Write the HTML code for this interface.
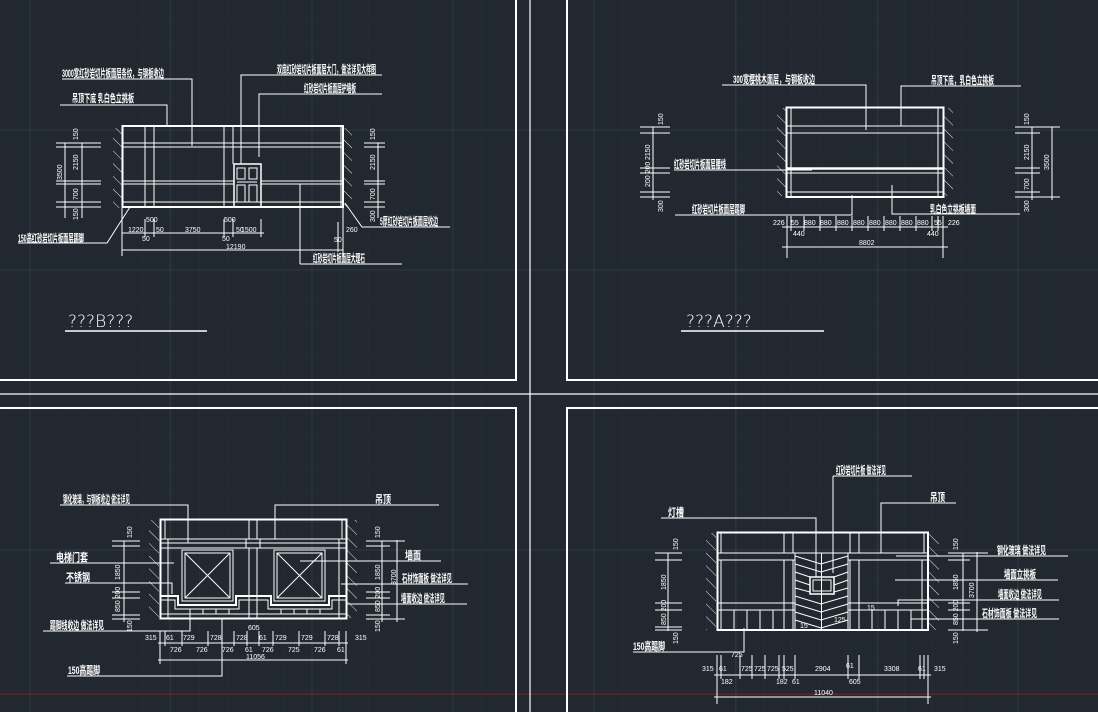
<!DOCTYPE html>
<html><head><meta charset="utf-8"><style>
html,body{margin:0;padding:0;background:#212830;}
svg{display:block}
text{font-family:"Liberation Sans","Noto Sans CJK SC",sans-serif;fill:#fff;}
.t{font-size:11px;font-weight:bold}
.d{font-size:7px}
</style></head><body>
<svg width="1098" height="712" viewBox="0 0 1098 712" xmlns="http://www.w3.org/2000/svg">
<defs>
<pattern id="minor" width="28.2" height="28" patternUnits="userSpaceOnUse" x="1.8" y="18">
<path d="M0 0V28M0 0H28.2" stroke="#262e38" stroke-width="1" fill="none"/>
</pattern>
<pattern id="hat" width="9" height="9" patternUnits="userSpaceOnUse" patternTransform="rotate(-45)">
<line x1="0" y1="0" x2="0" y2="9" stroke="#fff" stroke-width="0.9"/>
</pattern>
</defs>
<rect width="1098" height="712" fill="#212830"/>
<rect width="1098" height="712" fill="url(#minor)"/>
<g stroke="#2f3844" stroke-width="1">
<line x1="30" y1="0" x2="30" y2="712"/><line x1="170" y1="0" x2="170" y2="712"/><line x1="312" y1="0" x2="312" y2="712"/><line x1="453" y1="0" x2="453" y2="712"/><line x1="594" y1="0" x2="594" y2="712"/><line x1="736" y1="0" x2="736" y2="712"/><line x1="878" y1="0" x2="878" y2="712"/><line x1="1018" y1="0" x2="1018" y2="712"/>
<line x1="0" y1="130" x2="1098" y2="130"/><line x1="0" y1="270" x2="1098" y2="270"/><line x1="0" y1="550" x2="1098" y2="550"/>
</g>
<line x1="0" y1="694" x2="1098" y2="694" stroke="#8a1e22" stroke-width="1"/>
<g stroke="#fff" stroke-width="2" fill="none">
<polyline points="0,380 516,380 516,0"/>
<polyline points="1098,380 567,380 567,0"/>
<polyline points="0,408 516,408 516,712"/>
<polyline points="1098,408 567,408 567,712"/>
</g>
<line x1="530" y1="0" x2="530" y2="712" stroke="#fff" stroke-width="1.2"/>
<line x1="0" y1="394" x2="1098" y2="394" stroke="#fff" stroke-width="1.2"/>

<!-- ===== TOP LEFT (B) ===== -->
<rect x="113" y="128" width="9" height="80" fill="url(#hat)"/>
<rect x="343" y="128" width="9" height="80" fill="url(#hat)"/>
<g stroke="#fff" fill="none">
<rect x="122.5" y="126" width="220.5" height="81" stroke-width="2"/>
<g stroke-width="1">
<line x1="122" y1="143" x2="343" y2="143"/><line x1="122" y1="147" x2="343" y2="147"/>
<line x1="122" y1="181" x2="234" y2="181"/><line x1="122" y1="184" x2="234" y2="184"/>
<line x1="261" y1="181" x2="343" y2="181"/><line x1="261" y1="184" x2="343" y2="184"/>
<line x1="122" y1="202" x2="343" y2="202"/>
<line x1="145" y1="126" x2="145" y2="207"/><line x1="154" y1="126" x2="154" y2="207"/>
<line x1="224" y1="126" x2="224" y2="207"/><line x1="233" y1="126" x2="233" y2="164"/>
<line x1="341" y1="126" x2="341" y2="207"/>
<line x1="300" y1="184" x2="300" y2="264"/>
</g>
<rect x="234" y="164" width="27" height="43" stroke-width="1.5"/>
<rect x="237" y="168" width="8" height="11"/><rect x="249" y="168" width="8" height="11"/>
<rect x="237" y="185" width="8" height="17"/><rect x="249" y="185" width="8" height="17"/>
<line x1="237" y1="182" x2="257" y2="182"/>
<g stroke-width="1">
<polyline points="62,79 192,79 192,146"/>
<polyline points="60,105 167,105 167,126"/>
<polyline points="241,164 241,75 382,75"/>
<polyline points="259,157 259,94 382,94"/>
<polyline points="18,243 107,243 130,207"/>
<polyline points="345,203 362,227 450,227"/>
<polyline points="300,264 402,264"/>
<line x1="65" y1="143" x2="65" y2="218"/><line x1="82" y1="143" x2="82" y2="218"/>
<line x1="56" y1="143" x2="101" y2="143"/><line x1="56" y1="147" x2="101" y2="147"/>
<line x1="56" y1="181" x2="101" y2="181"/><line x1="56" y1="184" x2="101" y2="184"/>
<line x1="56" y1="202" x2="101" y2="202"/><line x1="56" y1="207" x2="101" y2="207"/>
<line x1="378" y1="143" x2="378" y2="218"/>
<line x1="364" y1="143" x2="385" y2="143"/><line x1="364" y1="147" x2="385" y2="147"/>
<line x1="364" y1="181" x2="385" y2="181"/><line x1="364" y1="184" x2="385" y2="184"/>
<line x1="364" y1="202" x2="385" y2="202"/><line x1="364" y1="207" x2="385" y2="207"/>
<line x1="122" y1="233" x2="264" y2="233"/>
<line x1="122" y1="250" x2="343" y2="250"/>
<line x1="122" y1="207" x2="122" y2="256"/><line x1="343" y1="207" x2="343" y2="256"/>
<line x1="145" y1="219" x2="145" y2="237"/><line x1="154" y1="219" x2="154" y2="237"/>
<line x1="224" y1="219" x2="224" y2="237"/><line x1="233" y1="219" x2="233" y2="237"/>
<line x1="261" y1="219" x2="261" y2="237"/>
<line x1="338" y1="222" x2="338" y2="252"/>
</g>
</g>
<text class="t" x="62" y="77" textLength="102" lengthAdjust="spacingAndGlyphs">3000宽红砂岩切片板面层条纹，与钢板收边</text>
<text class="t" x="72" y="102" textLength="62" lengthAdjust="spacingAndGlyphs">吊顶下底 乳白色立挑板</text>
<text class="t" x="277" y="73" textLength="99" lengthAdjust="spacingAndGlyphs">双扇红砂岩切片板面层大门，做法详见大样图</text>
<text class="t" x="304" y="92" textLength="52" lengthAdjust="spacingAndGlyphs">红砂岩切片板面层护墙板</text>
<text class="t" x="18" y="242" textLength="66" lengthAdjust="spacingAndGlyphs">150高红砂岩切片板面层踢脚</text>
<text class="t" x="380" y="225" textLength="58" lengthAdjust="spacingAndGlyphs">5厚红砂岩切片板面层收边</text>
<text class="t" x="313" y="262" textLength="52" lengthAdjust="spacingAndGlyphs">红砂岩切片板面层大理石</text>
<g class="d">
<text x="128" y="232">1220</text><text x="146" y="222">500</text><text x="185" y="232">3750</text><text x="224" y="222">500</text><text x="241" y="232">1500</text>
<text x="142" y="241">50</text><text x="156" y="232">50</text><text x="222" y="241">50</text><text x="236" y="232">50</text>
<text x="226" y="249">12190</text><text x="346" y="232">260</text><text x="334" y="242">50</text>
</g>
<g class="d">
<text transform="translate(78,140) rotate(-90)">150</text>
<text transform="translate(78,170) rotate(-90)">2150</text>
<text transform="translate(62,180) rotate(-90)">3500</text>
<text transform="translate(78,200) rotate(-90)">700</text>
<text transform="translate(78,220) rotate(-90)">150</text>
<text transform="translate(375,140) rotate(-90)">150</text>
<text transform="translate(375,170) rotate(-90)">2150</text>
<text transform="translate(375,200) rotate(-90)">700</text>
<text transform="translate(375,222) rotate(-90)">300</text>
</g>
<text x="68" y="327" font-size="17" style="font-family:'DejaVu Sans',sans-serif;font-weight:300">???B???</text>
<line x1="65" y1="331" x2="207" y2="331" stroke="#fff" stroke-width="1.5"/>

<!-- ===== TOP RIGHT (A) ===== -->
<rect x="777" y="108" width="9" height="88" fill="url(#hat)"/>
<rect x="944" y="108" width="9" height="88" fill="url(#hat)"/>
<g stroke="#fff" fill="none">
<rect x="786.5" y="107.5" width="157" height="89.5" stroke-width="2"/>
<g stroke-width="1">
<line x1="786" y1="126" x2="944" y2="126"/><line x1="786" y1="133" x2="944" y2="133"/>
<line x1="786" y1="173" x2="944" y2="173"/><line x1="786" y1="192" x2="944" y2="192"/>
<line x1="791" y1="107" x2="791" y2="197"/><line x1="938" y1="107" x2="938" y2="197"/>
</g>
<line x1="786" y1="168.5" x2="944" y2="168.5" stroke-width="2.5"/>
<g stroke-width="1">
<polyline points="722,85 866,85 866,130"/>
<polyline points="901,126 901,86 1021,86"/>
<polyline points="674,170 812,170"/>
<polyline points="675,215 852,215 852,195"/>
<polyline points="892,185 892,214 1020,214"/>
<line x1="653" y1="127" x2="653" y2="200"/>
<line x1="640" y1="127" x2="670" y2="127"/><line x1="640" y1="133" x2="670" y2="133"/>
<line x1="640" y1="168" x2="670" y2="168"/><line x1="640" y1="173" x2="670" y2="173"/>
<line x1="640" y1="192" x2="670" y2="192"/><line x1="640" y1="197" x2="670" y2="197"/>
<line x1="1032" y1="127" x2="1032" y2="200"/><line x1="1052" y1="127" x2="1052" y2="200"/>
<line x1="1015" y1="127" x2="1060" y2="127"/><line x1="1015" y1="133" x2="1040" y2="133"/>
<line x1="1015" y1="168" x2="1040" y2="168"/><line x1="1015" y1="173" x2="1040" y2="173"/>
<line x1="1015" y1="192" x2="1040" y2="192"/><line x1="1015" y1="197" x2="1060" y2="197"/>
<line x1="782" y1="227" x2="948" y2="227"/>
<line x1="782" y1="247" x2="948" y2="247"/>
<line x1="787" y1="216" x2="787" y2="258"/><line x1="943" y1="216" x2="943" y2="258"/>
<line x1="791" y1="216" x2="791" y2="231"/><line x1="804" y1="216" x2="804" y2="231"/><line x1="820" y1="216" x2="820" y2="231"/><line x1="836" y1="216" x2="836" y2="231"/><line x1="852" y1="216" x2="852" y2="231"/><line x1="868" y1="216" x2="868" y2="231"/><line x1="884" y1="216" x2="884" y2="231"/><line x1="900" y1="216" x2="900" y2="231"/><line x1="916" y1="216" x2="916" y2="231"/><line x1="932" y1="216" x2="932" y2="231"/><line x1="938" y1="216" x2="938" y2="231"/>
</g>
</g>
<text class="t" x="733" y="83" textLength="82" lengthAdjust="spacingAndGlyphs">300宽樱桃木面层，与钢板收边</text>
<text class="t" x="931" y="84" textLength="63" lengthAdjust="spacingAndGlyphs">吊顶下底，乳白色立挑板</text>
<text class="t" x="674" y="168" textLength="52" lengthAdjust="spacingAndGlyphs">红砂岩切片板面层腰线</text>
<text class="t" x="692" y="213" textLength="53" lengthAdjust="spacingAndGlyphs">红砂岩切片板面层踢脚</text>
<text class="t" x="930" y="213" textLength="46" lengthAdjust="spacingAndGlyphs">乳白色立挑板墙面</text>
<g class="d">
<text x="773" y="225">226</text><text x="791" y="225">55</text><text x="804" y="225">880</text><text x="820" y="225">880</text><text x="837" y="225">880</text><text x="853" y="225">880</text><text x="869" y="225">880</text><text x="885" y="225">880</text><text x="901" y="225">880</text><text x="917" y="225">880</text><text x="934" y="225">55</text><text x="948" y="225">226</text>
<text x="793" y="236">440</text><text x="927" y="236">440</text><text x="859" y="245">8802</text>
</g>
<g class="d">
<text transform="translate(663,125) rotate(-90)">150</text>
<text transform="translate(650,160) rotate(-90)">2150</text>
<text transform="translate(650,187) rotate(-90)">200 200</text>
<text transform="translate(663,212) rotate(-90)">300</text>
<text transform="translate(1029,125) rotate(-90)">150</text>
<text transform="translate(1029,160) rotate(-90)">2150</text>
<text transform="translate(1029,190) rotate(-90)">700</text>
<text transform="translate(1049,170) rotate(-90)">3500</text>
<text transform="translate(1029,212) rotate(-90)">300</text>
</g>
<text x="686" y="327" font-size="17" style="font-family:'DejaVu Sans',sans-serif;font-weight:300">???A???</text>
<line x1="681" y1="331" x2="824" y2="331" stroke="#fff" stroke-width="1.5"/>

<!-- ===== BOTTOM LEFT ===== -->
<rect x="149" y="520" width="10" height="98" fill="url(#hat)"/>
<rect x="347" y="520" width="10" height="98" fill="url(#hat)"/>
<g stroke="#fff" fill="none">
<rect x="160.5" y="519.5" width="186" height="99" stroke-width="2"/>
<g stroke-width="1">
<line x1="160" y1="539" x2="347" y2="539"/><line x1="160" y1="543" x2="347" y2="543"/><line x1="160" y1="548" x2="347" y2="548"/>
<line x1="165" y1="519" x2="165" y2="539"/><line x1="342" y1="519" x2="342" y2="539"/>
<line x1="249" y1="519" x2="249" y2="539"/><line x1="257" y1="519" x2="257" y2="539"/>
<line x1="168" y1="539" x2="168" y2="618"/><line x1="339" y1="539" x2="339" y2="618"/>
<line x1="249" y1="548" x2="249" y2="618"/><line x1="257" y1="548" x2="257" y2="618"/>
<line x1="246" y1="539" x2="246" y2="548"/><line x1="260" y1="539" x2="260" y2="548"/>
<rect x="182" y="550" width="51" height="51"/><rect x="185" y="553" width="45" height="45"/>
<line x1="185" y1="553" x2="230" y2="598"/><line x1="230" y1="553" x2="185" y2="598"/>
<rect x="274" y="550" width="51" height="51"/><rect x="277" y="553" width="45" height="45"/>
<line x1="277" y1="553" x2="322" y2="598"/><line x1="322" y1="553" x2="277" y2="598"/>
<line x1="160" y1="614" x2="347" y2="614"/>
</g>
<polyline stroke-width="2" points="160,596 178,596 178,605 236,605 236,596 271,596 271,605 329,605 329,596 347,596"/>
<polyline stroke-width="1" points="160,600 175,600 175,609 239,609 239,600 268,600 268,609 332,609 332,600 347,600"/>
<g stroke-width="1">
<line x1="190" y1="609" x2="190" y2="614"/><line x1="203" y1="609" x2="203" y2="614"/><line x1="216" y1="609" x2="216" y2="614"/><line x1="229" y1="609" x2="229" y2="614"/>
<line x1="281" y1="609" x2="281" y2="614"/><line x1="294" y1="609" x2="294" y2="614"/><line x1="307" y1="609" x2="307" y2="614"/><line x1="320" y1="609" x2="320" y2="614"/>
<polyline points="60,505 188,505 188,543"/>
<polyline points="275,539 275,505 439,505"/>
<polyline points="50,563 174,563"/>
<polyline points="65,583 172,583 172,594"/>
<polyline points="43,631 190,631 190,611"/>
<polyline points="67,676 222,676 222,618"/>
<polyline points="300,561 441,561"/>
<polyline points="341,584 468,584"/>
<polyline points="347,604 467,604"/>
<line x1="124" y1="541" x2="124" y2="622"/>
<line x1="112" y1="541" x2="140" y2="541"/><line x1="112" y1="546" x2="140" y2="546"/>
<line x1="112" y1="592" x2="140" y2="592"/><line x1="112" y1="598" x2="140" y2="598"/>
<line x1="112" y1="615" x2="140" y2="615"/><line x1="112" y1="619" x2="140" y2="619"/>
<line x1="382" y1="541" x2="382" y2="622"/><line x1="397" y1="540" x2="397" y2="622"/>
<line x1="366" y1="541" x2="405" y2="541"/><line x1="366" y1="546" x2="390" y2="546"/>
<line x1="366" y1="592" x2="390" y2="592"/><line x1="366" y1="598" x2="390" y2="598"/>
<line x1="366" y1="615" x2="390" y2="615"/><line x1="366" y1="619" x2="405" y2="619"/>
<line x1="158" y1="643" x2="348" y2="643"/>
<line x1="158" y1="660" x2="348" y2="660"/>
<line x1="160" y1="631" x2="160" y2="664"/><line x1="346" y1="631" x2="346" y2="664"/>
<line x1="165" y1="631" x2="165" y2="646"/><line x1="182" y1="631" x2="182" y2="646"/><line x1="208" y1="631" x2="208" y2="646"/><line x1="234" y1="631" x2="234" y2="646"/><line x1="247" y1="631" x2="247" y2="646"/><line x1="259" y1="631" x2="259" y2="646"/><line x1="273" y1="631" x2="273" y2="646"/><line x1="299" y1="631" x2="299" y2="646"/><line x1="325" y1="631" x2="325" y2="646"/><line x1="339" y1="631" x2="339" y2="646"/>
</g>
</g>
<text class="t" x="63" y="503" textLength="67" lengthAdjust="spacingAndGlyphs">钢化玻璃，与钢板收边 做法详见</text>
<text class="t" x="375" y="503" textLength="16" lengthAdjust="spacingAndGlyphs">吊顶</text>
<text class="t" x="56" y="561" textLength="32" lengthAdjust="spacingAndGlyphs">电梯门套</text>
<text class="t" x="66" y="581" textLength="24" lengthAdjust="spacingAndGlyphs">不锈钢</text>
<text class="t" x="50" y="629" textLength="54" lengthAdjust="spacingAndGlyphs">踢脚线收边 做法详见</text>
<text class="t" x="68" y="674" textLength="32" lengthAdjust="spacingAndGlyphs">150高踢脚</text>
<text class="t" x="405" y="559" textLength="16" lengthAdjust="spacingAndGlyphs">墙面</text>
<text class="t" x="402" y="582" textLength="50" lengthAdjust="spacingAndGlyphs">石材饰面板 做法详见</text>
<text class="t" x="401" y="602" textLength="44" lengthAdjust="spacingAndGlyphs">墙面收边 做法详见</text>
<g class="d">
<text x="145" y="640">315</text><text x="166" y="640">61</text><text x="183" y="640">729</text><text x="210" y="640">728</text><text x="236" y="640">728</text><text x="259" y="640">61</text><text x="275" y="640">729</text><text x="301" y="640">729</text><text x="327" y="640">728</text><text x="355" y="640">315</text>
<text x="170" y="652">726</text><text x="196" y="652">726</text><text x="222" y="652">726</text><text x="245" y="652">61</text><text x="262" y="652">726</text><text x="288" y="652">725</text><text x="314" y="652">726</text><text x="337" y="652">61</text>
<text x="248" y="630">605</text><text x="246" y="659">11056</text>
</g>
<g class="d">
<text transform="translate(132,538) rotate(-90)">150</text>
<text transform="translate(120,580) rotate(-90)">1850</text>
<text transform="translate(120,612) rotate(-90)">850 200</text>
<text transform="translate(132,632) rotate(-90)">150</text>
<text transform="translate(380,538) rotate(-90)">150</text>
<text transform="translate(380,580) rotate(-90)">1850</text>
<text transform="translate(380,612) rotate(-90)">850 200</text>
<text transform="translate(380,632) rotate(-90)">150</text>
<text transform="translate(396,585) rotate(-90)">3700</text>
</g>

<!-- ===== BOTTOM RIGHT ===== -->
<rect x="706" y="533" width="10" height="97" fill="url(#hat)"/>
<rect x="929" y="533" width="10" height="97" fill="url(#hat)"/>
<g stroke="#fff" fill="none">
<rect x="717.5" y="532.5" width="210.5" height="97.5" stroke-width="2"/>
<g stroke-width="1">
<line x1="717" y1="553" x2="928" y2="553"/><line x1="717" y1="560" x2="795" y2="560"/><line x1="848" y1="560" x2="928" y2="560"/>
<line x1="717" y1="603" x2="795" y2="603"/><line x1="848" y1="603" x2="928" y2="603"/>
<line x1="717" y1="610" x2="795" y2="610"/><line x1="848" y1="610" x2="928" y2="610"/>
<line x1="721" y1="532" x2="721" y2="553"/><line x1="924" y1="532" x2="924" y2="553"/>
<line x1="784" y1="532" x2="784" y2="553"/><line x1="793" y1="532" x2="793" y2="553"/>
<line x1="850" y1="532" x2="850" y2="553"/><line x1="859" y1="532" x2="859" y2="553"/>
<line x1="721" y1="560" x2="721" y2="630"/><line x1="922" y1="560" x2="922" y2="630"/>
<line x1="784" y1="560" x2="784" y2="630"/><line x1="793" y1="560" x2="793" y2="630"/>
<line x1="850" y1="560" x2="850" y2="630"/><line x1="859" y1="560" x2="859" y2="630"/>
<line x1="734" y1="610" x2="734" y2="630"/><line x1="747" y1="610" x2="747" y2="630"/><line x1="760" y1="610" x2="760" y2="630"/><line x1="773" y1="610" x2="773" y2="630"/>
<line x1="872" y1="610" x2="872" y2="630"/><line x1="885" y1="610" x2="885" y2="630"/><line x1="898" y1="610" x2="898" y2="630"/><line x1="911" y1="610" x2="911" y2="630"/>
<line x1="795" y1="553" x2="795" y2="630"/><line x1="848" y1="553" x2="848" y2="630"/>
<line x1="821.5" y1="553" x2="821.5" y2="630"/>
<polyline points="795,556 821,564 848,556"/><polyline points="795,564 821,572 848,564"/>
<polyline points="795,572 810,577"/><polyline points="834,577 848,572"/>
<polyline points="795,580 810,585"/><polyline points="834,585 848,580"/>
<polyline points="795,588 810,592"/><polyline points="834,592 848,588"/>
<polyline points="795,596 821,604 848,596"/><polyline points="795,604 821,612 848,604"/>
<polyline points="795,612 821,620 848,612"/><polyline points="795,620 821,628 848,620"/>
<rect x="810" y="577" width="24" height="17" stroke-width="1.5"/><rect x="813" y="580" width="18" height="11"/>
<polyline points="833,476 912,476"/><line x1="833" y1="476" x2="833" y2="573"/>
<polyline points="881,553 881,503 956,503"/>
<polyline points="661,518 816,518 816,577"/>
<polyline points="633,652 744,652 744,628"/>
<polyline points="896,556 1068,556"/>
<polyline points="895,580 1058,580"/>
<polyline points="898,606 898,600 1059,600"/>
<polyline points="911,619 1059,619"/>
<line x1="668" y1="553" x2="668" y2="631"/>
<line x1="655" y1="553" x2="682" y2="553"/><line x1="655" y1="560" x2="682" y2="560"/>
<line x1="655" y1="603" x2="682" y2="603"/><line x1="655" y1="610" x2="682" y2="610"/>
<line x1="655" y1="627" x2="682" y2="627"/><line x1="655" y1="630" x2="682" y2="630"/>
<line x1="963" y1="553" x2="963" y2="631"/><line x1="977" y1="552" x2="977" y2="632"/>
<line x1="948" y1="553" x2="988" y2="553"/><line x1="948" y1="560" x2="970" y2="560"/>
<line x1="948" y1="603" x2="970" y2="603"/><line x1="948" y1="610" x2="970" y2="610"/>
<line x1="948" y1="630" x2="988" y2="630"/>
<line x1="714" y1="675" x2="931" y2="675"/>
<line x1="714" y1="697" x2="931" y2="697"/>
<line x1="717" y1="655" x2="717" y2="704"/><line x1="928" y1="655" x2="928" y2="704"/>
<line x1="721" y1="655" x2="721" y2="679"/><line x1="740" y1="655" x2="740" y2="679"/><line x1="752" y1="655" x2="752" y2="679"/><line x1="765" y1="655" x2="765" y2="679"/><line x1="779" y1="655" x2="779" y2="679"/><line x1="784" y1="655" x2="784" y2="679"/><line x1="795" y1="655" x2="795" y2="679"/><line x1="848" y1="655" x2="848" y2="679"/><line x1="859" y1="655" x2="859" y2="679"/><line x1="920" y1="655" x2="920" y2="679"/><line x1="924" y1="655" x2="924" y2="679"/>
</g>
</g>
<text class="t" x="836" y="474" textLength="50" lengthAdjust="spacingAndGlyphs">红砂岩切片板 做法详见</text>
<text class="t" x="930" y="501" textLength="15" lengthAdjust="spacingAndGlyphs">吊顶</text>
<text class="t" x="668" y="516" textLength="16" lengthAdjust="spacingAndGlyphs">灯槽</text>
<text class="t" x="633" y="650" textLength="32" lengthAdjust="spacingAndGlyphs">150高踢脚</text>
<text class="t" x="997" y="554" textLength="49" lengthAdjust="spacingAndGlyphs">钢化玻璃 做法详见</text>
<text class="t" x="1004" y="578" textLength="32" lengthAdjust="spacingAndGlyphs">墙面立挑板</text>
<text class="t" x="998" y="598" textLength="44" lengthAdjust="spacingAndGlyphs">墙面收边 做法详见</text>
<text class="t" x="982" y="617" textLength="55" lengthAdjust="spacingAndGlyphs">石材饰面板 做法详见</text>
<text class="d" x="800" y="628">15</text><text class="d" x="834" y="622">125</text><text class="d" x="867" y="610">15</text>
<g class="d">
<text x="702" y="671">315</text><text x="719" y="671">61</text><text x="731" y="657">725</text><text x="741" y="671">725</text><text x="754" y="671">725</text><text x="767" y="671">725</text><text x="782" y="671">525</text><text x="815" y="671">2904</text><text x="846" y="668">61</text><text x="884" y="671">3308</text><text x="918" y="671">61</text><text x="934" y="671">315</text>
<text x="721" y="684">182</text><text x="776" y="684">182</text><text x="792" y="684">61</text><text x="849" y="684">605</text>
<text x="814" y="695">11040</text>
</g>
<g class="d">
<text transform="translate(678,550) rotate(-90)">150</text>
<text transform="translate(666,590) rotate(-90)">1850</text>
<text transform="translate(666,625) rotate(-90)">850 200</text>
<text transform="translate(678,644) rotate(-90)">150</text>
<text transform="translate(958,550) rotate(-90)">150</text>
<text transform="translate(958,590) rotate(-90)">1850</text>
<text transform="translate(958,625) rotate(-90)">850 200</text>
<text transform="translate(958,644) rotate(-90)">150</text>
<text transform="translate(974,598) rotate(-90)">3700</text>
</g>
</svg>
</body></html>
